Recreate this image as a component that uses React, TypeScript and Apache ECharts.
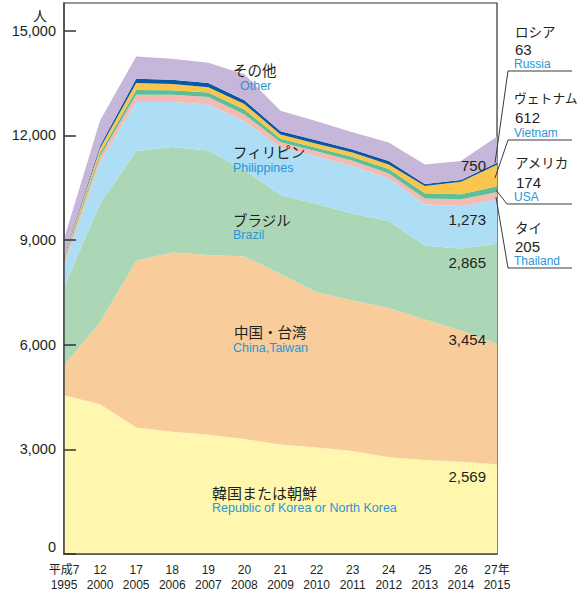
import React, { useEffect, useRef } from "react";
import * as echarts from "echarts";

const eraLabels = ["平成7", "12", "17", "18", "19", "20", "21", "22", "23", "24", "25", "26", "27年"];
const yearLabels = ["1995", "2000", "2005", "2006", "2007", "2008", "2009", "2010", "2011", "2012", "2013", "2014", "2015"];

const korea = [4549, 4292, 3626, 3503, 3420, 3293, 3141, 3055, 2950, 2770, 2693, 2647, 2569];
const china = [857, 2352, 4778, 5140, 5150, 5235, 4883, 4446, 4313, 4283, 4026, 3758, 3454];
const brazil = [2238, 3406, 3141, 3017, 2990, 2472, 2266, 2529, 2497, 2493, 2113, 2353, 2865];
const philippines = [620, 1180, 1410, 1295, 1318, 1400, 1360, 1360, 1360, 1214, 1190, 1217, 1273];
const thailand = [120, 170, 209, 209, 215, 195, 150, 150, 150, 145, 163, 191, 205];
const usa = [60, 90, 136, 124, 130, 140, 100, 105, 110, 125, 152, 142, 174];
const vietnam = [50, 140, 198, 181, 150, 160, 122, 115, 125, 135, 210, 362, 612];
const russia = [30, 70, 123, 123, 125, 105, 94, 95, 90, 95, 55, 45, 63];
const other = [500, 720, 637, 600, 580, 750, 584, 545, 490, 530, 563, 545, 750];

const yTicks = [0, 3000, 6000, 9000, 12000, 15000];

const FONT = '"Liberation Sans", Arial, "Noto Sans CJK JP", sans-serif';
const BLUE = "#2a95d6";
const INK = "#231f20";

const fmt = (v: number) => v.toLocaleString("en-US");
const last = (a: number[]) => a[a.length - 1];

export default function App() {
  const ref = useRef<HTMLDivElement>(null);

  useEffect(() => {
    if (!ref.current) return;
    const chart = echarts.init(ref.current, null, { renderer: "svg" });

    const mk = (name: string, data: number[], color: string) => ({
      name,
      type: "line",
      stack: "total",
      data,
      symbol: "none",
      showSymbol: false,
      lineStyle: { width: 0 },
      areaStyle: { color, opacity: 1 },
      itemStyle: { color },
      emphasis: { disabled: true },
      silent: true,
    });

    const txt = (text: string, x: number, y: number, opts: any = {}) => ({
      type: "text",
      x,
      y,
      z: 100,
      silent: true,
      style: {
        text,
        fill: opts.fill || INK,
        fontSize: opts.fontSize || 15,
        fontFamily: FONT,
        align: opts.align || "left",
        verticalAlign: "middle",
      },
    });

    const line = (pts: number[][]) => ({
      type: "polyline",
      z: 100,
      silent: true,
      shape: { points: pts },
      style: { stroke: "#3a3a3a", fill: null, lineWidth: 1 },
    });

    const graphic: any[] = [
      txt("人", 40, 16, { fontSize: 14, align: "center" }),
      // region labels
      txt("その他", 233, 71, { fontSize: 14.5 }),
      txt("Other", 240, 86, { fontSize: 12.5, fill: BLUE }),
      txt("フィリピン", 233, 153, { fontSize: 14.5 }),
      txt("Philippines", 233, 168, { fontSize: 12.5, fill: BLUE }),
      txt("ブラジル", 233, 221, { fontSize: 14.5 }),
      txt("Brazil", 233, 235, { fontSize: 12.5, fill: BLUE }),
      txt("中国・台湾", 234, 333, { fontSize: 14.5 }),
      txt("China,Taiwan", 233, 348, { fontSize: 12.5, fill: BLUE }),
      txt("韓国または朝鮮", 212, 493, { fontSize: 15 }),
      txt("Republic of Korea or North Korea", 212, 508, { fontSize: 12.5, fill: BLUE }),
      // last values inside plot
      txt(fmt(last(other)), 486, 165, { align: "right" }),
      txt(fmt(last(philippines)), 486, 219, { align: "right" }),
      txt(fmt(last(brazil)), 486, 262, { align: "right" }),
      txt(fmt(last(china)), 486, 339, { align: "right" }),
      txt(fmt(last(korea)), 486, 476, { align: "right" }),
      // right annotations
      txt("ロシア", 515, 32, { fontSize: 13.5 }),
      txt(fmt(last(russia)), 515, 49, { fontSize: 15 }),
      txt("Russia", 514, 64, { fontSize: 12, fill: BLUE }),
      txt("ヴェトナム", 514, 98, { fontSize: 12.8 }),
      txt(fmt(last(vietnam)), 515, 117, { fontSize: 15 }),
      txt("Vietnam", 514, 133, { fontSize: 12, fill: BLUE }),
      txt("アメリカ", 515, 163, { fontSize: 13.5 }),
      txt(fmt(last(usa)), 516, 182, { fontSize: 15 }),
      txt("USA", 514, 197, { fontSize: 12, fill: BLUE }),
      txt("タイ", 515, 228, { fontSize: 13.5 }),
      txt(fmt(last(thailand)), 515, 246, { fontSize: 15 }),
      txt("Thailand", 514, 261, { fontSize: 12, fill: BLUE }),
      line([[495, 163], [508, 71], [572, 71]]),
      line([[495, 178], [508, 140], [572, 140]]),
      line([[496, 190], [507, 204], [572, 204]]),
      line([[496, 197], [508, 268], [572, 268]]),
    ];

    chart.setOption({
      animation: false,
      grid: {
        left: 64,
        right: 82,
        top: 3,
        bottom: 36,
        show: true,
        borderColor: "#333",
        borderWidth: 1.2,
        backgroundColor: "transparent",
      },
      xAxis: {
        type: "category",
        boundaryGap: false,
        data: eraLabels.map((e, i) => e + "\n" + yearLabels[i]),
        axisLine: { lineStyle: { color: "#4a4a4a", width: 1.6 } },
        axisTick: { show: false },
        axisLabel: {
          interval: 0,
          color: INK,
          fontSize: 12,
          lineHeight: 15,
          margin: 8,
          fontFamily: FONT,
        },
        z: 10,
      },
      yAxis: {
        type: "value",
        min: yTicks[0],
        max: 15790,
        interval: yTicks[1] - yTicks[0],
        axisLine: { show: true, lineStyle: { color: "#4a4a4a", width: 1.6 } },
        axisTick: { show: true, inside: true, length: 12, lineStyle: { color: "#333", width: 1.5 } },
        splitLine: { show: false },
        axisLabel: {
          color: INK,
          fontSize: 14.5,
          margin: 8,
          fontFamily: FONT,
          showMaxLabel: false,
          verticalAlignMinLabel: "bottom",
          formatter: (v: number) => (yTicks.includes(v) ? fmt(v) : ""),
        },
        z: 10,
      },
      series: [
        mk("韓国または朝鮮", korea, "#fff7ae"),
        mk("中国・台湾", china, "#f8cd9b"),
        mk("ブラジル", brazil, "#acd7b7"),
        mk("フィリピン", philippines, "#addef6"),
        mk("タイ", thailand, "#f4bab4"),
        mk("アメリカ", usa, "#5cbf97"),
        mk("ヴェトナム", vietnam, "#f9c54c"),
        mk("ロシア", russia, "#0a57a4"),
        mk("その他", other, "#c5b6da"),
      ],
      graphic,
    });

    return () => chart.dispose();
  }, []);

  return (
    <div
      ref={ref}
      style={{ position: "absolute", left: 0, top: 0, width: 579, height: 592, background: "#fff" }}
    />
  );
}
